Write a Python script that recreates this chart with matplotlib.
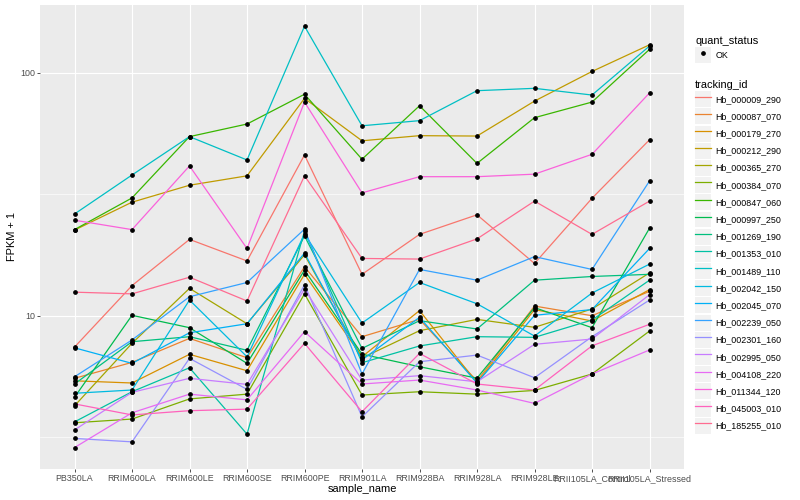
import matplotlib
matplotlib.use("Agg")
import matplotlib.pyplot as plt
from matplotlib.lines import Line2D
from matplotlib.patches import Patch
from matplotlib.legend_handler import HandlerTuple
from matplotlib.ticker import NullFormatter

plt.rcParams['font.family'] = ['Liberation Sans', 'DejaVu Sans']

# samples on the x axis
sample_names = ["PB350LA", "RRIM600LA", "RRIM600LE", "RRIM600SE", "RRIM600PE",
                "RRIM901LA", "RRIM928BA", "RRIM928LA", "RRIM928LE",
                "RRII105LA_Control", "RRII105LA_Stressed"]

# FPKM + 1 per gene
hb_000009_290 = [7.43, 13.3, 20.6, 16.8, 45.8, 14.8, 21.6, 26.0, 16.4, 30.4, 52.9]
hb_000087_070 = [5.53, 6.43, 8.07, 6.72, 15.9, 8.20, 9.66, 5.39, 10.96, 10.0, 12.6]
hb_000179_270 = [5.40, 5.29, 6.94, 5.94, 14.8, 6.78, 10.5, 5.30, 10.6, 9.51, 12.8]
hb_000212_290 = [22.5, 29.3, 34.4, 37.6, 78.3, 52.4, 55.0, 54.8, 76.3, 101.0, 130.0]
hb_000365_270 = [4.26, 7.70, 12.96, 9.27, 17.8, 6.70, 8.68, 9.66, 8.96, 10.66, 15.0]
hb_000384_070 = [3.63, 3.76, 4.55, 4.76, 12.3, 4.72, 4.87, 4.76, 4.93, 5.76, 8.65]
hb_000847_060 = [22.6, 30.5, 54.5, 61.4, 81.4, 44.0, 73.0, 42.3, 65.2, 75.6, 124.5]
hb_000997_250 = [4.62, 10.04, 8.93, 6.37, 15.4, 6.95, 6.17, 5.54, 10.8, 8.93, 22.9]
hb_001269_190 = [5.24, 7.82, 8.20, 7.21, 21.3, 7.34, 9.54, 8.82, 14.0, 14.5, 14.8]
hb_001353_010 = [3.66, 4.87, 6.11, 3.26, 22.3, 6.41, 7.51, 8.20, 8.15, 9.60, 14.0]
hb_001489_110 = [26.2, 37.9, 54.5, 43.7, 155.0, 60.4, 63.4, 84.2, 86.1, 80.8, 128.5]
hb_002042_150 = [4.80, 4.95, 11.6, 6.78, 21.7, 9.33, 13.7, 11.2, 8.25, 12.4, 16.3]
hb_002045_070 = [7.38, 6.37, 8.51, 9.27, 18.1, 6.58, 9.85, 5.29, 10.04, 10.6, 18.9]
hb_002239_050 = [5.61, 7.95, 11.97, 13.7, 22.7, 5.76, 15.5, 14.0, 17.5, 15.5, 35.8]
hb_002301_160 = [3.13, 3.03, 6.68, 4.98, 13.4, 3.84, 6.47, 6.89, 5.56, 8.20, 11.6]
hb_002995_050 = [3.39, 4.84, 5.53, 5.22, 12.9, 5.44, 5.67, 5.35, 7.63, 8.02, 12.2]
hb_004108_220 = [2.87, 3.99, 4.76, 4.51, 8.60, 5.24, 5.44, 4.95, 4.36, 5.76, 7.23]
hb_011344_120 = [24.7, 22.6, 41.3, 18.9, 75.6, 32.0, 37.3, 37.3, 38.2, 46.1, 82.4]
hb_045003_010 = [4.34, 3.91, 4.07, 4.13, 7.70, 4.03, 7.00, 5.24, 4.95, 7.52, 9.22]
hb_185255_010 = [12.5, 12.3, 14.4, 11.5, 37.6, 17.2, 17.1, 20.7, 29.6, 21.6, 29.6]

tracking_ids = ["Hb_000009_290", "Hb_000087_070", "Hb_000179_270", "Hb_000212_290",
                "Hb_000365_270", "Hb_000384_070", "Hb_000847_060", "Hb_000997_250",
                "Hb_001269_190", "Hb_001353_010", "Hb_001489_110", "Hb_002042_150",
                "Hb_002045_070", "Hb_002239_050", "Hb_002301_160", "Hb_002995_050",
                "Hb_004108_220", "Hb_011344_120", "Hb_045003_010", "Hb_185255_010"]
series = [hb_000009_290, hb_000087_070, hb_000179_270, hb_000212_290, hb_000365_270,
          hb_000384_070, hb_000847_060, hb_000997_250, hb_001269_190, hb_001353_010,
          hb_001489_110, hb_002042_150, hb_002045_070, hb_002239_050, hb_002301_160,
          hb_002995_050, hb_004108_220, hb_011344_120, hb_045003_010, hb_185255_010]

# ggplot2 default hue palette for 20 levels
colors = ["#F8766D", "#EA8331", "#D89000", "#C09B00", "#A3A500", "#7CAE00", "#39B600",
          "#00BB4E", "#00BF7D", "#00C1A3", "#00BFC4", "#00BAE0", "#00B0F6", "#35A2FF",
          "#9590FF", "#C77CFF", "#E76BF3", "#FA62DB", "#FF62BC", "#FF6C91"]

fig = plt.figure(figsize=(8, 5), dpi=100)
ax = fig.add_axes([0.05, 0.0626, 0.805, 0.9274])
ax.set_facecolor("#EBEBEB")
for s in ax.spines.values():
    s.set_visible(False)

x = list(range(len(sample_names)))
for vals, col in zip(series, colors):
    ax.plot(x, vals, color=col, lw=0.9, zorder=3)
for vals in series:
    ax.plot(x, vals, ls="none", marker="o", ms=2.4, color="black", zorder=4)

ax.set_yscale("log")
ax.set_xlim(-0.6, 10.6)
ax.set_ylim(2.35, 189.5)
ax.set_yticks([10, 100])
ax.set_yticklabels(["10", "100"])
ax.set_yticks([10 ** 0.5, 10 ** 1.5], minor=True)
ax.yaxis.set_minor_formatter(NullFormatter())
ax.set_xticks(x)
ax.set_xticklabels(sample_names)
ax.set_axisbelow(True)
ax.grid(which="major", color="white", lw=0.85)
ax.grid(which="minor", axis="y", color="white", lw=0.45)
ax.tick_params(which="major", length=2.5, width=0.6, color="#333333",
               labelcolor="#4D4D4D", labelsize=6.4, pad=1.2)
ax.tick_params(which="minor", length=0)

ax.set_xlabel("sample_name", fontsize=7.9, labelpad=1)
ax.set_ylabel("FPKM + 1", fontsize=7.9, labelpad=2)

# legend keys: grey square with the line / point drawn on top
key_bg = "#F2F2F2"
tuple_handler = {tuple: HandlerTuple(ndivide=1, pad=0)}
key_kw = dict(frameon=False, fontsize=6.4, title_fontsize=7.9, handler_map=tuple_handler,
              handlelength=1.8, handleheight=2.39, handletextpad=0.45,
              labelspacing=0.135, borderpad=0, borderaxespad=0, alignment="left",
              loc="upper left")

h1 = [(Patch(facecolor=key_bg, edgecolor="none"),
       Line2D([], [], ls="none", marker="o", ms=2.4, color="black"))]
leg1 = fig.legend(h1, ["OK"], title="quant_status", bbox_to_anchor=(0.869, 0.928), **key_kw)

h2 = [(Patch(facecolor=key_bg, edgecolor="none"), Line2D([], [], color=c, lw=0.9))
      for c in colors]
leg2 = fig.legend(h2, tracking_ids, title="tracking_id", bbox_to_anchor=(0.869, 0.84), **key_kw)

fig.savefig("out.png", dpi=100)
